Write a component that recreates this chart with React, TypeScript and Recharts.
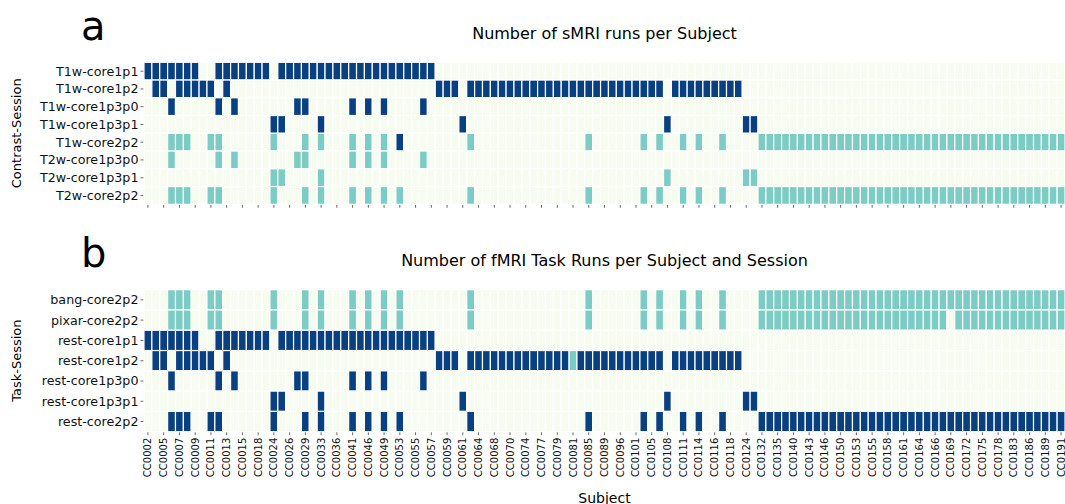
import React from 'react';
import { ScatterChart, Scatter, XAxis, YAxis } from 'recharts';

// subjects in column order (only every other one is labelled)
const subjects = [
	'CC0002', 'CC0004', 'CC0005', 'CC0006', 'CC0007', 'CC0008', 'CC0009', 'CC0010', 'CC0011', 'CC0012',
	'CC0013', 'CC0014', 'CC0015', 'CC0017', 'CC0018', 'CC0021', 'CC0024', 'CC0025', 'CC0026', 'CC0027',
	'CC0029', 'CC0031', 'CC0033', 'CC0035', 'CC0036', 'CC0039', 'CC0041', 'CC0043', 'CC0046', 'CC0047',
	'CC0049', 'CC0051', 'CC0053', 'CC0054', 'CC0055', 'CC0056', 'CC0057', 'CC0058', 'CC0059', 'CC0060',
	'CC0061', 'CC0062', 'CC0064', 'CC0066', 'CC0068', 'CC0069', 'CC0070', 'CC0072', 'CC0074', 'CC0076',
	'CC0077', 'CC0078', 'CC0079', 'CC0080', 'CC0081', 'CC0083', 'CC0085', 'CC0087', 'CC0089', 'CC0093',
	'CC0096', 'CC0099', 'CC0101', 'CC0103', 'CC0105', 'CC0107', 'CC0108', 'CC0110', 'CC0111', 'CC0113',
	'CC0114', 'CC0115', 'CC0116', 'CC0117', 'CC0118', 'CC0121', 'CC0124', 'CC0128', 'CC0132', 'CC0134',
	'CC0135', 'CC0138', 'CC0140', 'CC0141', 'CC0143', 'CC0145', 'CC0146', 'CC0148', 'CC0150', 'CC0152',
	'CC0153', 'CC0154', 'CC0155', 'CC0157', 'CC0158', 'CC0160', 'CC0161', 'CC0163', 'CC0164', 'CC0165',
	'CC0166', 'CC0167', 'CC0169', 'CC0170', 'CC0172', 'CC0174', 'CC0175', 'CC0177', 'CC0178', 'CC0180',
	'CC0183', 'CC0185', 'CC0186', 'CC0187', 'CC0189', 'CC0190', 'CC0191',
];

// run counts per subject, one digit per subject (groups of 10 for reading)
const sMRI_T1w_core1p1 = '2222222002 2222220222 2222222222 2222222000 0000000000 0000000000 0000000000 0000000000 0000000000 0000000000 0000000000 0000000';
const sMRI_T1w_core1p2 = '0220222220 2000000000 0000000000 0000000222 0222222222 2222222222 2222220222 2222220000 0000000000 0000000000 0000000000 0000000';
const sMRI_T1w_core1p3p0 = '0002000002 0200000002 2000002020 2000020000 0000000000 0000000000 0000000000 0000000000 0000000000 0000000000 0000000000 0000000';
const sMRI_T1w_core1p3p1 = '0000000000 0000002200 0020000000 0000000000 2000000000 0000000000 0000002000 0000002200 0000000000 0000000000 0000000000 0000000';
const sMRI_T1w_core2p2 = '0001110011 0000001000 1010001010 1020000000 0100000000 0000001000 0001010010 1001000011 1111111111 1111111111 1111111111 1111111';
const sMRI_T2w_core1p3p0 = '0001000001 0100000001 1000001010 1000010000 0000000000 0000000000 0000000000 0000000000 0000000000 0000000000 0000000000 0000000';
const sMRI_T2w_core1p3p1 = '0000000000 0000001100 0010000000 0000000000 0000000000 0000000000 0000001000 0000001100 0000000000 0000000000 0000000000 0000000';
const sMRI_T2w_core2p2 = '0001110011 0000001000 1010001010 1010000000 0100000000 0000001000 0001010010 1001000011 1111111111 1111111111 1111111111 1111111';

const fMRI_bang_core2p2 = '0001110011 0000001000 1010001010 1010000000 0100000000 0000001000 0001010010 1001000011 1111111111 1111111111 1111111111 1111111';
const fMRI_pixar_core2p2 = '0001110011 0000001000 1010001010 1010000000 0100000000 0000001000 0001010010 1001000011 1111111111 1111111111 1101111111 1111111';
const fMRI_rest_core1p1 = '2222222002 2222220222 2222222222 2222222000 0000000000 0000000000 0000000000 0000000000 0000000000 0000000000 0000000000 0000000';
const fMRI_rest_core1p2 = '0220222220 2000000000 0000000000 0000000222 0222222222 2222122222 2222220222 2222220000 0000000000 0000000000 0000000000 0000000';
const fMRI_rest_core1p3p0 = '0002000002 0200000002 2000002020 2000020000 0000000000 0000000000 0000000000 0000000000 0000000000 0000000000 0000000000 0000000';
const fMRI_rest_core1p3p1 = '0000000000 0000002200 0020000000 0000000000 2000000000 0000000000 0000002000 0000002200 0000000000 0000000000 0000000000 0000000';
const fMRI_rest_core2p2 = '0002220022 0000002000 2020002020 2020000000 0200000000 0000002000 0002020020 2002000022 2222222222 2222222222 2222222222 2222222';

const sessionsA = [
	'T1w-core1p1', 'T1w-core1p2', 'T1w-core1p3p0', 'T1w-core1p3p1',
	'T1w-core2p2', 'T2w-core1p3p0', 'T2w-core1p3p1', 'T2w-core2p2',
];
const rowsA = [
	sMRI_T1w_core1p1, sMRI_T1w_core1p2, sMRI_T1w_core1p3p0, sMRI_T1w_core1p3p1,
	sMRI_T1w_core2p2, sMRI_T2w_core1p3p0, sMRI_T2w_core1p3p1, sMRI_T2w_core2p2,
];
const sessionsB = [
	'bang-core2p2', 'pixar-core2p2', 'rest-core1p1', 'rest-core1p2',
	'rest-core1p3p0', 'rest-core1p3p1', 'rest-core2p2',
];
const rowsB = [
	fMRI_bang_core2p2, fMRI_pixar_core2p2, fMRI_rest_core1p1, fMRI_rest_core1p2,
	fMRI_rest_core1p3p0, fMRI_rest_core1p3p1, fMRI_rest_core2p2,
];

const COLORS = ['#f7fcf0', '#7bccc4', '#084081'];
const FONT = 'DejaVu Sans, sans-serif';
const W = 1065;
const PLOT_LEFT = 144;
const PLOT_W = W - PLOT_LEFT;
const PLOT_H = 142;
const N = subjects.length;
const labelTicks = subjects.map((_, i) => i).filter(i => i % 2 === 0);

function toCells(rows: string[]) {
	const out: { x: number; y: number; v: number }[] = [];
	rows.forEach((r, y) => {
		r.replace(/ /g, '').split('').forEach((d, x) => out.push({ x, y, v: Number(d) }));
	});
	return out;
}

const SubjectTick = (props: any) => {
	const { x, y, payload } = props;
	return (
		<text
			x={x}
			y={y}
			transform={`rotate(-90 ${x} ${y})`}
			textAnchor='end'
			dominantBaseline='central'
			fontSize={10}
			fontFamily={FONT}
			fill='#111'
		>
			{subjects[payload.value]}
		</text>
	);
};

function Heatmap({ sessions, rows, top, height, showLabels }: any) {
	const cells = toCells(rows);
	const cw = PLOT_W / N;
	const ch = PLOT_H / sessions.length;
	const cell = (p: any) => (
		<rect
			x={p.cx - cw / 2}
			y={p.cy - ch / 2}
			width={cw}
			height={ch}
			fill={COLORS[p.payload.v]}
			stroke='#ffffff'
			strokeWidth={1.2}
		/>
	);
	return (
		<ScatterChart width={W} height={height} margin={{ top, right: 0, bottom: 0, left: 0 }}>
			<XAxis
				type='number'
				dataKey='x'
				domain={[-0.5, N - 0.5]}
				ticks={labelTicks}
				interval={0}
				axisLine={false}
				tickSize={3.5}
				tickMargin={2.5}
				tickLine={{ stroke: '#444', strokeWidth: 0.8 }}
				height={height - top - PLOT_H}
				tick={showLabels ? <SubjectTick /> : () => <g />}
			/>
			<YAxis
				type='number'
				dataKey='y'
				reversed
				domain={[-0.5, sessions.length - 0.5]}
				ticks={sessions.map((_: string, i: number) => i)}
				interval={0}
				width={PLOT_LEFT}
				axisLine={false}
				tickSize={3.5}
				tickMargin={2}
				tickLine={{ stroke: '#444', strokeWidth: 0.8 }}
				tickFormatter={(i: number) => sessions[i]}
				tick={{ fontSize: 12.7, fill: '#111', fontFamily: FONT }}
			/>
			<Scatter data={cells} shape={cell} isAnimationActive={false} />
		</ScatterChart>
	);
}

export default function App() {
	const midX = PLOT_LEFT + PLOT_W / 2;
	return (
		<div style={{ position: 'absolute', left: 0, top: 0, width: W, height: 504, background: '#fff', overflow: 'hidden' }}>
			<div style={{ position: 'absolute', left: 0, top: 0 }}>
				<Heatmap sessions={sessionsA} rows={rowsA} top={62.3} height={230} showLabels={false} />
			</div>
			<div style={{ position: 'absolute', left: 0, top: 0 }}>
				<Heatmap sessions={sessionsB} rows={rowsB} top={289.7} height={504} showLabels />
			</div>
			<svg width={W} height={504} style={{ position: 'absolute', left: 0, top: 0, pointerEvents: 'none' }}>
				<g fontFamily={FONT} fill='#000'>
					<text x={81} y={40} fontSize={40}>a</text>
					<text x={81} y={267.4} fontSize={40}>b</text>
					<text x={midX} y={38.7} fontSize={16} textAnchor='middle'>Number of sMRI runs per Subject</text>
					<text x={midX} y={266} fontSize={16} textAnchor='middle'>Number of fMRI Task Runs per Subject and Session</text>
					<text x={17} y={133.3} fontSize={13} textAnchor='middle' dominantBaseline='central' transform='rotate(-90 17 133.3)'>Contrast-Session</text>
					<text x={17} y={360.7} fontSize={13} textAnchor='middle' dominantBaseline='central' transform='rotate(-90 17 360.7)'>Task-Session</text>
					<text x={midX} y={503} fontSize={14} textAnchor='middle'>Subject</text>
				</g>
			</svg>
		</div>
	);
}
